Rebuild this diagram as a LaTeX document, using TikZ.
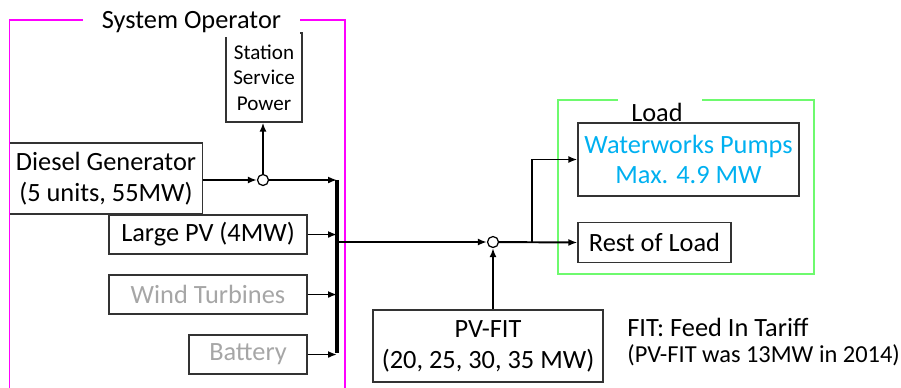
\documentclass[tikz,border=0pt]{standalone}
\usepackage{fontspec}
\setmainfont{Carlito}
\usepackage{xcolor}
\usetikzlibrary{arrows.meta}
\definecolor{opmagenta}{RGB}{255,0,255}
\definecolor{loadgreen}{RGB}{110,250,110}
\definecolor{pumpblue}{RGB}{0,176,240}
\definecolor{offgray}{RGB}{166,166,166}
\def\px{0.02cm}

\begin{document}
\begin{tikzpicture}[
    x=0.02cm,
    y=-0.02cm,
    >={Latex[length=1.8mm,width=1.4mm]},
    font=\fontsize{15}{17.5}\selectfont,
    unit/.style 2 args={draw=black!80, line width=0.7pt, align=center, inner sep=0pt, minimum width=#1*\px, minimum height=#2*\px},
    flow/.style={draw=black, line width=1.1pt, ->},
    bus/.style={draw=black, line width=2.3pt},
    junc/.style={circle, draw=black, fill=white, line width=0.7pt, inner sep=0pt, minimum size=11*\px},
    opframe/.style={draw=opmagenta, line width=0.9pt},
    loadframe/.style={draw=loadgreen, line width=1.2pt},
    note/.style={anchor=west, inner sep=0pt},
  ]

  \useasboundingbox (0,0) rectangle (901,387);

  % System operator side
  \node[unit={76}{89}, font=\fontsize{12}{14.5}\selectfont] (station) at (264,77.5) {Station\\Service\\Power};
  \node[unit={193.5}{71}] (diesel) at (106,178.5) {Diesel Generator\\(5 units, 55MW)};
  \node[unit={198}{39}] (largepv) at (208,234.5) {Large PV (4MW)};
  \node[unit={198}{39}, text=offgray] (wind) at (208,294.5) {Wind Turbines};
  \node[unit={118}{39}, text=offgray] (battery) at (248,354.5) {Battery};

  \draw[opframe] (83,20) -| (9.5,390);
  \draw[opframe] (300,20) -| (345,390);
  \node[fill=white, inner sep=0pt, minimum width=217*\px, minimum height=30*\px] (oplabel) at (191.5,22) {System Operator};

  % Junctions and bus
  \node[junc] (j1) at (263,180) {};
  \node[junc] (j2) at (493,242) {};
  \coordinate (bustop) at (337,180);
  \coordinate (busbot) at (337,353);
  \coordinate (busout) at (337,242);
  \coordinate (split) at (532,242);

  \draw[flow] (diesel.east |- j1) -- (j1);
  \draw[flow] (j1) -- (j1 |- station.south);
  \draw[flow] (j1) -- (bustop);
  \draw[flow] (largepv.east) -- (largepv.east -| bustop);
  \draw[flow] (wind.east) -- (wind.east -| bustop);
  \draw[flow] (battery.east) -- (battery.east -| bustop);
  \draw[bus] (bustop) -- (busbot);
  \draw[flow] (busout) -- (j2);

  % Load side
  \node[unit={221}{73}, text=pumpblue] (pumps) at (688.5,159.5) {Waterworks Pumps\\Max. 4.9 MW};
  \node[unit={153}{40}] (rest) at (654.5,242.5) {Rest of Load};
  \draw[loadframe] (618,100) -| (558,274) -| (814,100) -- (702,100);
  \node[inner sep=0pt] (loadlabel) at (657,112) {Load};

  \draw[flow] (j2) -- (rest.west);
  \draw[flow] (split) |- (pumps.west);

  % PV-FIT feed
  \node[unit={230}{72}] (pvfit) at (488,346) {PV-FIT\\(20, 25, 30, 35 MW)};
  \draw[flow] (pvfit.north -| j2) -- (j2);

  \node[note] (fitnote) at (627,327) {FIT: Feed In Tariff};
  \node[note, font=\fontsize{13.9}{15}\selectfont] (fityear) at (627,355) {(PV-FIT was 13MW in 2014)};
\end{tikzpicture}
\end{document}
